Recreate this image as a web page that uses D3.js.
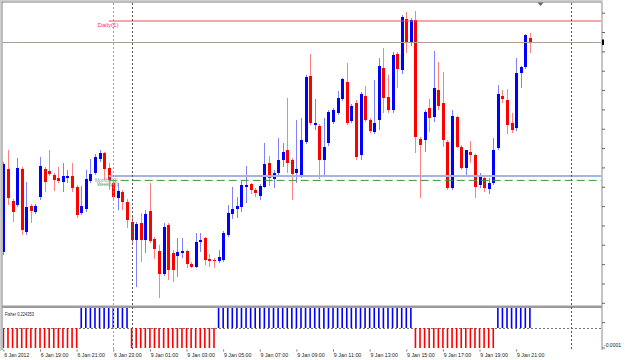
<!DOCTYPE html>
<html><head><meta charset="utf-8">
<script src="https://cdn.jsdelivr.net/npm/d3@7"></script>
<style>
html,body{margin:0;padding:0;background:#fff;}
svg{display:block;}
text{font-family:"Liberation Sans",Arial,sans-serif;}
</style></head><body>
<svg id="c" width="625" height="360"></svg>
<script>
// ---- DATA (EURUSD M15, 6-9 Jan 2012) ----
const open = [1.27040,1.27455,1.27295,1.27275,1.27455,1.27140,1.27270,1.27240,1.27315,1.27455,
1.27445,1.27425,1.27410,1.27390,1.27410,1.27420,1.27365,1.27235,1.27255,1.27395,
1.27435,1.27505,1.27535,1.27460,1.27385,1.27310,1.27340,1.27290,1.27190,1.27100,
1.27185,1.27100,1.27245,1.27105,1.27045,1.26930,1.27175,1.27035,1.27020,1.27035,
1.27045,1.26980,1.26965,1.27090,1.27110,1.27005,1.27000,1.26995,1.27000,1.27125,
1.27230,1.27255,1.27265,1.27365,1.27380,1.27350,1.27320,1.27365,1.27485,1.27405,
1.27435,1.27500,1.27550,1.27500,1.27435,1.27415,1.27590,1.27920,1.27675,1.27670,
1.27500,1.27585,1.27690,1.27735,1.27805,1.27890,1.27695,1.27785,1.27525,1.27820,
1.27700,1.27640,1.27700,1.27960,1.27815,1.27750,1.28030,1.27950,1.28205,1.28085,
1.28200,1.27605,1.27600,1.27760,1.27715,1.27850,1.27785,1.27590,1.27360,1.27715,
1.27565,1.27460,1.27540,1.27525,1.27375,1.27410,1.27355,1.27385,1.27560,1.27820,
1.27800,1.27685,1.27660,1.27935,1.27965,1.28110];
const high = [1.27490,1.27550,1.27305,1.27510,1.27465,1.27390,1.27280,1.27280,1.27515,1.27465,
1.27550,1.27435,1.27465,1.27485,1.27450,1.27485,1.27375,1.27370,1.27450,1.27505,
1.27530,1.27550,1.27540,1.27485,1.27395,1.27385,1.27350,1.27305,1.27225,1.27190,
1.27235,1.27250,1.27385,1.27115,1.27075,1.27185,1.27185,1.27050,1.27110,1.27110,
1.27050,1.26990,1.27135,1.27135,1.27115,1.27030,1.27010,1.27050,1.27145,1.27275,
1.27365,1.27315,1.27400,1.27470,1.27385,1.27360,1.27380,1.27585,1.27520,1.27450,
1.27610,1.27585,1.27810,1.27510,1.27700,1.27710,1.27925,1.28030,1.27805,1.27680,
1.27710,1.27750,1.27760,1.27845,1.27910,1.27985,1.27780,1.27800,1.27840,1.27870,
1.27710,1.27900,1.28010,1.28060,1.27925,1.28040,1.28040,1.28225,1.28240,1.28210,
1.28245,1.27615,1.27750,1.27805,1.28045,1.27990,1.27940,1.27600,1.27750,1.27720,
1.27575,1.27550,1.27595,1.27530,1.27435,1.27420,1.27410,1.27610,1.27875,1.27850,
1.27855,1.27735,1.28010,1.27970,1.28130,1.28135];
const low = [1.27025,1.27275,1.27190,1.27265,1.27125,1.27125,1.27185,1.27230,1.27300,1.27340,
1.27420,1.27345,1.27385,1.27340,1.27385,1.27340,1.27210,1.27225,1.27240,1.27385,
1.27425,1.27490,1.27400,1.27350,1.27295,1.27250,1.27250,1.27160,1.27075,1.26865,
1.26990,1.27035,1.27085,1.27005,1.26810,1.26920,1.26900,1.26890,1.26915,1.27010,
1.26960,1.26960,1.26960,1.27040,1.26975,1.26965,1.26960,1.26985,1.26990,1.27115,
1.27205,1.27210,1.27240,1.27285,1.27330,1.27315,1.27300,1.27360,1.27370,1.27360,
1.27425,1.27465,1.27435,1.27300,1.27385,1.27410,1.27580,1.27675,1.27650,1.27405,
1.27415,1.27570,1.27680,1.27725,1.27795,1.27675,1.27685,1.27500,1.27500,1.27690,
1.27635,1.27630,1.27650,1.27735,1.27735,1.27735,1.27860,1.27930,1.28035,1.28070,
1.27535,1.27310,1.27540,1.27640,1.27690,1.27750,1.27565,1.27350,1.27350,1.27560,
1.27450,1.27415,1.27485,1.27310,1.27360,1.27340,1.27330,1.27375,1.27550,1.27785,
1.27630,1.27635,1.27645,1.27860,1.27955,1.28035];
const close = [1.27480,1.27310,1.27240,1.27460,1.27150,1.27265,1.27245,1.27270,1.27470,1.27390,
1.27430,1.27400,1.27395,1.27420,1.27420,1.27360,1.27225,1.27270,1.27405,1.27430,
1.27515,1.27535,1.27455,1.27400,1.27315,1.27345,1.27290,1.27200,1.27100,1.27180,
1.27100,1.27230,1.27095,1.27055,1.26930,1.27165,1.26950,1.26950,1.27040,1.27045,
1.26980,1.26965,1.27090,1.27100,1.27000,1.26995,1.26995,1.27015,1.27135,1.27235,
1.27255,1.27270,1.27375,1.27375,1.27350,1.27335,1.27370,1.27480,1.27410,1.27435,
1.27500,1.27540,1.27485,1.27430,1.27455,1.27600,1.27915,1.27685,1.27685,1.27500,
1.27565,1.27740,1.27750,1.27810,1.27905,1.27685,1.27770,1.27515,1.27830,1.27700,
1.27645,1.27685,1.27970,1.27810,1.27750,1.28025,1.27955,1.28215,1.28085,1.28200,
1.27615,1.27575,1.27740,1.27710,1.27860,1.27770,1.27600,1.27360,1.27720,1.27565,
1.27460,1.27550,1.27525,1.27365,1.27415,1.27360,1.27385,1.27550,1.27830,1.27805,
1.27675,1.27650,1.27935,1.27965,1.28125,1.28090];
// Fisher histogram (sign buffer, saturating the sub-window)
const fisherHist = [-0.0001,-0.0001,-0.0001,-0.0001,-0.0001,-0.0001,-0.0001,-0.0001,-0.0001,-0.0001,
-0.0001,-0.0001,-0.0001,-0.0001,-0.0001,-0.0001,-0.0001,0.0001,0.0001,0.0001,
0.0001,0.0001,0.0001,0.0001,0.0001,0.0001,0.0001,0.0001,-0.0001,-0.0001,
-0.0001,-0.0001,-0.0001,-0.0001,-0.0001,-0.0001,-0.0001,-0.0001,-0.0001,-0.0001,
-0.0001,-0.0001,-0.0001,-0.0001,-0.0001,-0.0001,-0.0001,0.0001,0.0001,0.0001,
0.0001,0.0001,0.0001,0.0001,0.0001,0.0001,0.0001,0.0001,0.0001,0.0001,
0.0001,0.0001,0.0001,0.0001,0.0001,0.0001,0.0001,0.0001,0.0001,0.0001,
0.0001,0.0001,0.0001,0.0001,0.0001,0.0001,0.0001,0.0001,0.0001,0.0001,
0.0001,0.0001,0.0001,0.0001,0.0001,0.0001,0.0001,0.0001,0.0001,0.0001,
-0.0001,-0.0001,-0.0001,-0.0001,-0.0001,-0.0001,-0.0001,-0.0001,-0.0001,-0.0001,
-0.0001,-0.0001,-0.0001,-0.0001,-0.0001,-0.0001,-0.0001,-0.0001,0.0001,0.0001,
0.0001,0.0001,0.0001,0.0001,0.0001,0.0001];
const fisherValue = "0.224353";
const timeLabels = ["6 Jan 2012","6 Jan 19:00","6 Jan 21:00","6 Jan 23:00","9 Jan 01:00","9 Jan 03:00",
"9 Jan 05:00","9 Jan 07:00","9 Jan 09:00","9 Jan 11:00","9 Jan 13:00","9 Jan 15:00",
"9 Jan 17:00","9 Jan 19:00","9 Jan 21:00"];
const labelEvery = 8;           // one time label every 8 bars (2 hours)
const dailyLevel = 1.28195, monthlyLevel = 1.27420, weeklyLevel = 1.27398;
const levelStartBar = 23;
const separatorBars = [24, 28, 124];
const panelLevel = -0.0001;

// ---- LAYOUT ----
const svg = d3.select("#c");
const L = 3, R = 601.5, T = 3, mainB = 305, pT = 308, pB = 349.5;
const x = d3.scaleLinear().domain([0, 124]).range([3.4, 571.1]);
const y = d3.scaleLinear().domain([1.2830, 1.2650]).range([0, 360]);
const fy = d3.scaleLinear().domain([-0.000105, 0.0001]).range([349, 308]);
const bars = d3.range(open.length);

svg.append("rect").attr("width",625).attr("height",360).attr("fill","#fff");
const defs = svg.append("defs");
defs.append("clipPath").attr("id","mc").append("rect").attr("x",L).attr("y",T).attr("width",R-L).attr("height",mainB-T);
defs.append("clipPath").attr("id","pc").append("rect").attr("x",L).attr("y",pT).attr("width",R-L).attr("height",pB-pT);

// frame
svg.append("line").attr("x1",0.5).attr("x2",0.5).attr("y1",0).attr("y2",351).attr("stroke","#cfcfcf");
svg.append("line").attr("x1",0).attr("x2",603).attr("y1",0.5).attr("y2",0.5).attr("stroke","#cfcfcf");
svg.append("line").attr("x1",2).attr("x2",2).attr("y1",1.5).attr("y2",350).attr("stroke","#7a7a7a");
svg.append("line").attr("x1",1.5).attr("x2",602).attr("y1",2).attr("y2",2).attr("stroke","#7a7a7a");
svg.append("line").attr("x1",R+0.5).attr("x2",R+0.5).attr("y1",2).attr("y2",350).attr("stroke","#8c8c8c");

// price axis ticks (labels fall outside the picture)
const priceTicks = d3.range(1.282365, 1.2667, -0.000967);
svg.append("g").attr("transform",`translate(${R+0.5},0)`)
  .call(d3.axisRight(y).tickValues(priceTicks).tickSize(3).tickFormat(""))
  .call(g=>{g.select(".domain").remove(); g.selectAll("line").attr("stroke","#666");});

// candles
const mg = svg.append("g").attr("clip-path","url(#mc)");
const up = i => close[i] >= open[i];
const cx = i => Math.round(x(i));
mg.selectAll(".wick").data(bars).join("line").attr("class","wick")
  .attr("x1", i=>cx(i)+0.5).attr("x2", i=>cx(i)+0.5)
  .attr("y1", i=>y(high[i])).attr("y2", i=>y(low[i]))
  .attr("stroke", i=> up(i) ? "#8080ff" : "#ff8080").attr("stroke-width",1)
  .attr("shape-rendering","crispEdges");
mg.selectAll(".body").data(bars).join("rect").attr("class","body")
  .attr("x", i=>cx(i)-1).attr("width",3)
  .attr("y", i=>y(Math.max(open[i],close[i])))
  .attr("height", i=>Math.max(1, Math.abs(y(open[i])-y(close[i]))))
  .attr("fill", i=> up(i) ? "#0000ff" : "#ff0000")
  .attr("shape-rendering","crispEdges");

// horizontal levels
const lv = svg.append("g").attr("clip-path","url(#mc)");
lv.append("line").attr("x1",x(levelStartBar)).attr("x2",R).attr("y1",y(dailyLevel)).attr("y2",y(dailyLevel))
  .attr("stroke","#e8505a").attr("stroke-width",1);
lv.append("line").attr("x1",L).attr("x2",R).attr("y1",y(close[close.length-1])+0.5).attr("y2",y(close[close.length-1])+0.5)
  .attr("stroke","#ab9d90").attr("stroke-width",1.2);
lv.append("line").attr("x1",x(levelStartBar)).attr("x2",R).attr("y1",y(monthlyLevel)).attr("y2",y(monthlyLevel))
  .attr("stroke","#aab0df").attr("stroke-width",2.2);
lv.append("line").attr("x1",x(levelStartBar)).attr("x2",R).attr("y1",y(weeklyLevel)).attr("y2",y(weeklyLevel))
  .attr("stroke","#3a9a3a").attr("stroke-width",1).attr("stroke-dasharray","8,4");

svg.append("text").attr("x",97.5).attr("y",y(dailyLevel)+6).attr("font-size",6).attr("fill","#ee3a6a")
  .attr("textLength",21).attr("lengthAdjust","spacingAndGlyphs").text("Daily(1)");
svg.append("text").attr("x",95).attr("y",y(monthlyLevel)+6).attr("font-size",4.5).attr("fill","#8f94b8")
  .attr("textLength",23).attr("lengthAdjust","spacingAndGlyphs").text("Monthly(1)");
svg.append("text").attr("x",97).attr("y",y(weeklyLevel)+5.5).attr("font-size",4.5).attr("fill","#5a9a5a")
  .attr("textLength",21).attr("lengthAdjust","spacingAndGlyphs").text("Weekly(1)");

// bid marker on price axis
svg.append("rect").attr("x",R+0.5).attr("y",y(close[close.length-1])-2.5).attr("width",2).attr("height",5.5).attr("fill","#000");

// separator between chart and sub-window
svg.append("line").attr("x1",2).attr("x2",R+0.5).attr("y1",306.8).attr("y2",306.8).attr("stroke","#9c9c9c").attr("stroke-width",2.6);

// Fisher sub-window
const pg = svg.append("g").attr("clip-path","url(#pc)");
pg.append("line").attr("x1",L).attr("x2",R).attr("y1",fy(0)+0.5).attr("y2",fy(0)+0.5)
  .attr("stroke","#777").attr("stroke-dasharray","2,2");
pg.selectAll(".fh").data(bars).join("rect").attr("class","fh")
  .attr("x", i=>x(i)-0.8).attr("width",1.6)
  .attr("y", i=>Math.min(fy(0), fy(fisherHist[i])))
  .attr("height", i=>Math.abs(fy(fisherHist[i])-fy(0)))
  .attr("fill", i=> fisherHist[i] > 0 ? "#0000ff" : "#ff0000");
svg.append("text").attr("x",5).attr("y",315.5).attr("font-size",6).attr("fill","#222")
  .attr("textLength",29).attr("lengthAdjust","spacingAndGlyphs").text("Fisher " + fisherValue);
svg.append("line").attr("x1",R+0.5).attr("x2",R+3.5).attr("y1",fy(panelLevel)).attr("y2",fy(panelLevel)).attr("stroke","#666");
svg.append("text").attr("x",604).attr("y",fy(panelLevel)-1.3).attr("font-size",6).attr("fill","#222")
  .attr("textLength",17).attr("lengthAdjust","spacingAndGlyphs").text(d3.format(".4f")(panelLevel).replace("−","-"));

// period separators
svg.selectAll(".sep").data(separatorBars).join("line").attr("class","sep")
  .attr("x1", b=>Math.round(x(b))+0.5).attr("x2", b=>Math.round(x(b))+0.5)
  .attr("y1",T).attr("y2",349)
  .attr("stroke", (b,k)=> k===0 ? "#a0a0a0" : "#555").attr("stroke-dasharray","2,2");

// chart shift marker
svg.append("path").attr("d","M537.5,2.5 L543.5,2.5 L540.5,6 Z").attr("fill","#666");

// time axis
const tickBars = timeLabels.map((d,k)=>k*labelEvery);
const ax = svg.append("g").attr("transform","translate(0,349.5)")
  .call(d3.axisBottom(x).tickValues(tickBars).tickSize(2).tickFormat((d,k)=>timeLabels[k]));
ax.select(".domain").remove();
ax.selectAll("line").attr("stroke","#777");
ax.selectAll("text").attr("font-size",6).attr("fill","#222").attr("text-anchor","start")
  .attr("dy",0).attr("y",7).attr("x",0.3)
  .attr("font-family","Liberation Sans, Arial, sans-serif")
  .attr("textLength",(d,k)=> k===0 ? 25 : 27.5).attr("lengthAdjust","spacingAndGlyphs");
</script>
</body></html>
